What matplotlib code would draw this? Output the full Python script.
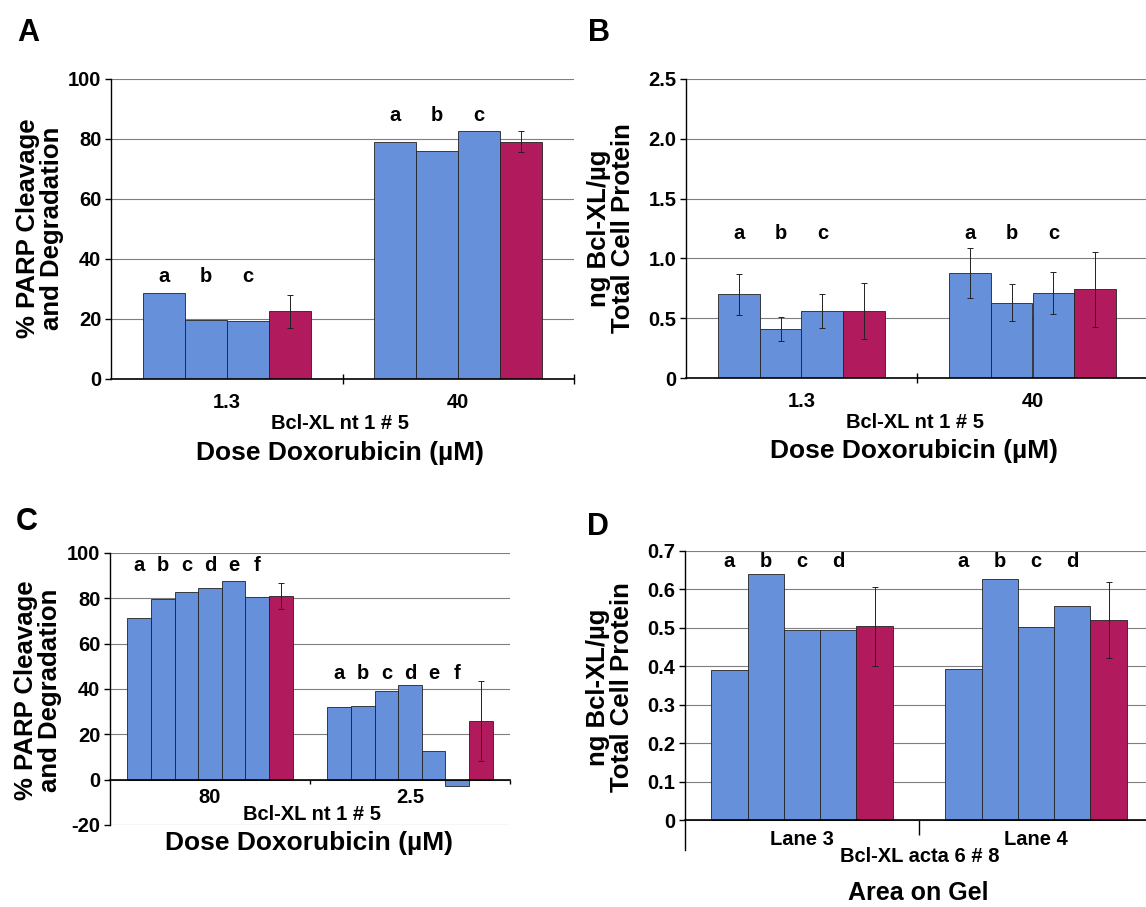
import matplotlib
matplotlib.use('Agg')
import matplotlib.pyplot as plt
import numpy as np

plt.rcParams['font.family'] = ['Liberation Sans', 'DejaVu Sans']
plt.rcParams['font.weight'] = 'bold'

# ---------------- data ----------------
letters_abc = ['a', 'b', 'c']
letters_abcd = ['a', 'b', 'c', 'd']
letters_af = ['a', 'b', 'c', 'd', 'e', 'f']

A_cats = ['1.3', '40']
A_reps = [[28.8, 19.7, 19.2], [79.0, 75.9, 82.5]]
A_mean = [22.6, 79.1]
A_err = [5.5, 3.5]

B_cats = ['1.3', '40']
B_reps = [[0.70, 0.41, 0.56], [0.88, 0.63, 0.71]]
B_rep_err = [[0.17, 0.10, 0.14], [0.21, 0.155, 0.175]]
B_mean = [0.56, 0.74]
B_err = [0.235, 0.31]

C_cats = ['80', '2.5']
C_reps = [[71.5, 79.6, 82.9, 84.4, 87.5, 80.6], [32.2, 32.6, 39.0, 41.9, 12.8, -2.9]]
C_mean = [81.0, 26.0]
C_err = [5.6, 17.7]

D_cats = ['Lane 3', 'Lane 4']
D_reps = [[0.390, 0.640, 0.494, 0.494], [0.394, 0.627, 0.503, 0.558]]
D_mean = [0.504, 0.520]
D_err = [0.103, 0.099]

A_yticks = [0, 20, 40, 60, 80, 100]
B_yticks = [0, 0.5, 1.0, 1.5, 2.0, 2.5]
B_yticklabels = ['0', '0.5', '1.0', '1.5', '2.0', '2.5']
C_yticks = [-20, 0, 20, 40, 60, 80, 100]
D_yticks = [0, 0.1, 0.2, 0.3, 0.4, 0.5, 0.6, 0.7]
D_yticklabels = ['0', '0.1', '0.2', '0.3', '0.4', '0.5', '0.6', '0.7']

# ---------------- layout ----------------
W, H = 1146, 907
fig = plt.figure(figsize=(W / 100, H / 100), dpi=100)
fig.patch.set_facecolor('white')

BLUE = '#6690da'
MAG = '#b11b5d'
GRID = '#7f7f7f'


def rect(l, t, r, b):
    return [l / W, 1 - b / H, (r - l) / W, (b - t) / H]


def ftext(x, y, s, **kw):
    fig.text(x / W, 1 - y / H, s, **kw)


def panel(r, cats, reps, rep_err, means, mean_err, letters, letter_y, ylim,
          yticks, yticklabels, bar_w, zero_spine, cat_pad, cat_tick, cat_dir):
    ax = fig.add_axes(rect(*r))
    ax.set_facecolor('none')
    ax.set_xlim(-0.5, 1.5)
    ax.set_ylim(*ylim)
    ax.set_axisbelow(True)
    for gi in range(len(cats)):
        vals = list(reps[gi]) + [means[gi]]
        n = len(vals)
        xs = gi + (np.arange(n) - (n - 1) / 2) * bar_w
        cols = [BLUE] * (n - 1) + [MAG]
        ax.bar(xs, vals, width=bar_w, color=cols, edgecolor='#222222',
               linewidth=0.6, zorder=2)
        if rep_err is not None:
            ax.errorbar(xs[:-1], reps[gi], yerr=rep_err[gi], fmt='none',
                        ecolor='#222222', elinewidth=0.7, capsize=2.5,
                        capthick=0.7, zorder=3)
        ax.errorbar([xs[-1]], [means[gi]], yerr=[mean_err[gi]], fmt='none',
                    ecolor='#222222', elinewidth=0.7, capsize=2.5,
                    capthick=0.7, zorder=3)
        for li, lab in enumerate(letters):
            ax.text(xs[li], letter_y[gi], lab, ha='center', va='center',
                    fontsize=14.5, fontweight='bold')
    ax.set_yticks(yticks)
    ax.set_yticklabels(yticklabels if yticklabels is not None
                       else [str(v) for v in yticks])
    ax.yaxis.grid(True, color=GRID, linewidth=0.8)
    ax.tick_params(axis='y', labelsize=14.5, length=4, width=1, pad=3,
                   direction='out')
    for s in ['top', 'right']:
        ax.spines[s].set_visible(False)
    ax.spines['left'].set_linewidth(1.0)
    ax.spines['bottom'].set_linewidth(1.2)
    if zero_spine:
        ax.spines['bottom'].set_position(('data', 0))
    ax.set_xticks([0.5, 1.5])
    ax.set_xticklabels(['', ''])
    ax.tick_params(axis='x', which='major', length=cat_tick, width=1,
                   direction=cat_dir)
    ax.set_xticks([0, 1], minor=True)
    ax.set_xticklabels(cats, minor=True)
    ax.tick_params(axis='x', which='minor', length=0, labelsize=14.5,
                   pad=cat_pad)
    return ax


# Panel A
panel((111, 79, 574, 379), A_cats, A_reps, None, A_mean, A_err,
      letters_abc, [34.3, 87.7], (0, 100), A_yticks, None, 0.181,
      False, 10, 7, 'inout')
# Panel B
panel((686, 79, 1148, 378), B_cats, B_reps, B_rep_err, B_mean, B_err,
      letters_abc, [1.21, 1.21], (0, 2.5), B_yticks, B_yticklabels, 0.181,
      False, 10, 7, 'inout')
# Panel C
panel((110, 553, 510, 825), C_cats, C_reps, None, C_mean, C_err,
      letters_af, [94.3, 46.8], (-20, 100), C_yticks, None, 0.118,
      True, 6, 3, 'out')
# Panel D
panel((685, 551, 1153, 850), D_cats, D_reps, None, D_mean, D_err,
      letters_abcd, [0.672, 0.672], (-0.078, 0.7), D_yticks, D_yticklabels,
      0.155, True, 7, 11, 'out')

# panel letters
for x, y, s in [(28, 33, 'A'), (599, 33, 'B'), (27, 522, 'C'), (598, 527, 'D')]:
    ftext(x, y, s, fontsize=22, fontweight='bold', ha='center', va='center')

# y labels
ylab_pct = '% PARP Cleavage\nand Degradation'
ylab_ng = 'ng Bcl-XL/\u00b5g\nTotal Cell Protein'
for x, y, s in [(40, 228, ylab_pct), (611, 228, ylab_ng),
                (38, 690, ylab_pct), (610, 687, ylab_ng)]:
    ftext(x, y, s, rotation=90, fontsize=18.5, ha='center', va='center',
          multialignment='center', linespacing=0.95)

# x-axis titles
dose = 'Dose Doxorubicin (\u00b5M)'
ftext(340, 424, 'Bcl-XL nt 1 # 5', fontsize=14.5, ha='center', va='center')
ftext(340, 453, dose, fontsize=19, ha='center', va='center')
ftext(915, 422, 'Bcl-XL nt 1 # 5', fontsize=14.5, ha='center', va='center')
ftext(914, 451, dose, fontsize=19, ha='center', va='center')
ftext(312, 815, 'Bcl-XL nt 1 # 5', fontsize=14.5, ha='center', va='center')
ftext(309, 843, dose, fontsize=19, ha='center', va='center')
ftext(920, 857, 'Bcl-XL acta 6 # 8', fontsize=14.5, ha='center', va='center')
ftext(918, 893, 'Area on Gel', fontsize=18, ha='center', va='center')

fig.savefig('out.png', dpi=100, facecolor='white')
